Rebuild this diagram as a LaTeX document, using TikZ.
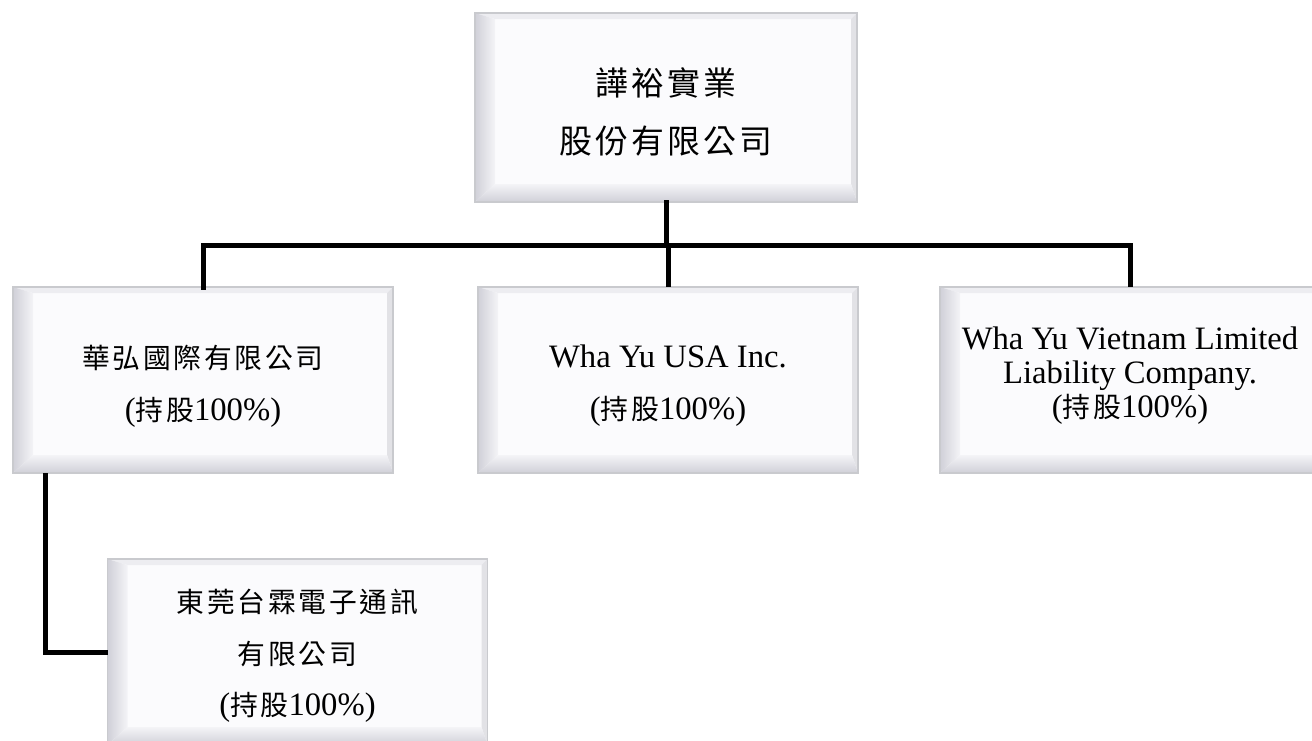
\documentclass[tikz,border=0pt]{standalone}
\usepackage{fontspec}
\setmainfont{Liberation Serif}
\newfontfamily\cjk{Noto Sans CJK TC}[Scale=0.85,LetterSpace=10]
\newcommand\cj[1]{{\cjk #1}}
\definecolor{facec}{HTML}{FBFBFD}
\definecolor{edgec}{HTML}{C9CACE}
\definecolor{topbev}{HTML}{EDEDF1}
\definecolor{rightbev}{HTML}{E2E2E6}
\definecolor{bevdark}{HTML}{D0D0D8}
\definecolor{bevlight}{HTML}{F4F4F7}
\tikzset{
  bevelbox/.style={rectangle, inner sep=0pt, outer sep=0pt,
    minimum width=285pt, minimum height=139.5pt,
    draw=edgec, line width=1pt, fill=facec,
    path picture={
      \coordinate (pA) at (path picture bounding box.north west);
      \coordinate (pB) at (path picture bounding box.north east);
      \coordinate (pC) at (path picture bounding box.south east);
      \coordinate (pD) at (path picture bounding box.south west);
      \coordinate (qA) at ([shift={(15pt,-4.5pt)}]pA);
      \coordinate (qB) at ([shift={(-4.5pt,-4.5pt)}]pB);
      \coordinate (qC) at ([shift={(-4.5pt,13.5pt)}]pC);
      \coordinate (qD) at ([shift={(15pt,13.5pt)}]pD);
      \fill[topbev] (pA)--(pB)--(qB)--(qA)--cycle;
      \fill[rightbev] (pB)--(pC)--(qC)--(qB)--cycle;
      \shade[left color=bevdark, right color=bevlight] (pA)--(qA)--(qD)--(pD)--cycle;
      \shade[top color=bevlight, bottom color=bevdark] (pD)--(qD)--(qC)--(pC)--cycle;
    }},
  boxtext/.style={inner sep=0pt, align=center, font=\fontsize{24.5}{39}\selectfont},
  link/.style={line width=3.75pt, line join=miter, line cap=rect, black}
}
\begin{document}
\begin{tikzpicture}[x=0.75pt,y=-0.75pt]
\useasboundingbox (0,0) rectangle (1312,740);
\clip (0,0) rectangle (1312,740);
\fill[white] (0,0) rectangle (1312,740);

\node[bevelbox, minimum width=286.5pt, minimum height=141.75pt] (top) at (666,107.5) {};
\node[boxtext, font=\fontsize{29}{43.5}\selectfont] (topt) at ([yshift=-3pt]top.center)
  {\cj{譁裕實業}\\\cj{股份有限公司}};

\node[bevelbox] (b1) at (203,380) {};
\node[boxtext] (b1t) at ([yshift=-4.5pt]b1.center) {\cj{華弘國際有限公司}\\(\cj{持股}100\%)};

\node[bevelbox] (b2) at (668,380) {};
\node[boxtext] (b2t) at ([yshift=-4.5pt]b2.center) {Wha Yu USA Inc.\\(\cj{持股}100\%)};

\node[bevelbox] (b3) at (1130,380) {};
\node[boxtext, font=\fontsize{24.5}{25.5}\selectfont] (b3t) at ([yshift=3.5pt]b3.center)
  {Wha Yu Vietnam Limited\\Liability Company.\\(\cj{持股}100\%)};

\node[bevelbox] (b5) at (297.5,652) {};
\node[boxtext, font=\fontsize{24.5}{38.5}\selectfont] (b5t) at ([yshift=-3pt]b5.center)
  {\cj{東莞台霖電子通訊}\\\cj{有限公司}\\(\cj{持股}100\%)};

\coordinate (j) at (0,245);
\coordinate (k) at (45,0);

\draw[link] (top.south) -- (top.south |- j);
\draw[link] (b1.north |- j) -- (b3.north |- j);
\draw[link] (b1.north |- j) -- (b1.north);
\draw[link, line cap=butt] (b2.north |- j) -- (b2.north);
\draw[link, line cap=butt] (b3.north |- j) -- (b3.north);
\draw[link, line cap=butt] (k |- b1.south) -- (k |- b5.west) -- (b5.west);
\end{tikzpicture}
\end{document}
